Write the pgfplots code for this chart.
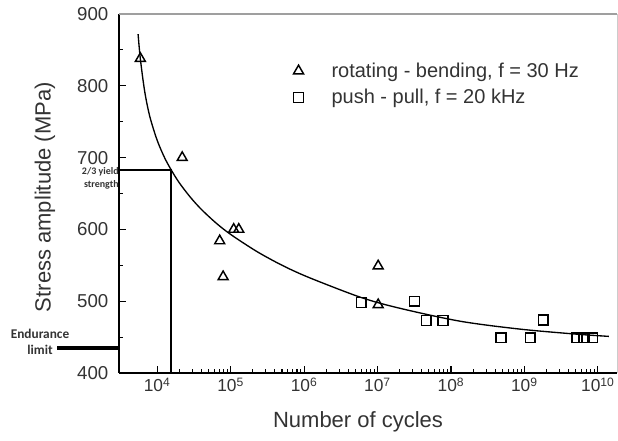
\documentclass[border=0pt]{standalone}
\usepackage{fontspec}
\setmainfont{Liberation Sans}
\newfontfamily\calib{Carlito}
\usepackage{pgfplots}
\pgfplotsset{compat=1.18}
\definecolor{txt}{HTML}{333333}

\begin{document}
\begin{tikzpicture}
\useasboundingbox (-89.25pt,-51pt) rectangle (374.25pt,279.75pt);
\begin{axis}[
  scale only axis,
  width=373.5pt,
  height=269.25pt,
  xmode=log,
  xmin=3020, xmax=1.82e10,
  ymin=400, ymax=900,
  axis lines*=left,
  axis line style={line width=1.1pt,-},
  clip=false,
  tick align=inside,
  xtick pos=left, ytick pos=left,
  major tick length=5pt, minor tick length=3pt,
  tick style={line width=0.8pt,black},
  ytick={400,500,600,700,800,900},
  minor y tick num=1,
  xtick={1e4,1e5,1e6,1e7,1e8,1e9,1e10},
  xticklabels={10\textsuperscript{4},10\textsuperscript{5},10\textsuperscript{6},10\textsuperscript{7},10\textsuperscript{8},10\textsuperscript{9},10\textsuperscript{10}},
  /pgf/number format/assume math mode=true,
  yticklabel style={font=\fontsize{14}{17}\selectfont,color=txt,xshift=-4.5pt},
  xticklabel style={font=\fontsize{13}{16}\selectfont,color=txt},
  xlabel={Number of cycles},
  ylabel={Stress amplitude (MPa)},
  xlabel style={font=\fontsize{16.5}{19}\selectfont,color=txt,at={(rel axis cs:0.48,-0.1365)},anchor=center},
  ylabel style={font=\fontsize{16.5}{19}\selectfont,color=txt,at={(rel axis cs:-0.1486,0.49)},anchor=center},
  legend style={draw=none,fill=none,at={(rel axis cs:0.342,0.88)},anchor=north west,
    font=\fontsize{15}{18}\selectfont,text=txt,row sep=3.5pt,
    /tikz/every odd column/.append style={column sep=19pt}},
  legend cell align=left,
  legend image code/.code={\draw[#1] plot coordinates {(0.3cm,0cm)};},
]
\addplot[only marks,mark=triangle,mark size=4.3pt,mark options={line width=1.1pt,black,fill=white}] coordinates {
  (5900,838) (21900,700) (1.1e5,600) (1.29e5,600) (7.1e4,584) (7.9e4,534) (1.02e7,549) (1.02e7,495)
};
\addlegendentry{rotating - bending, f = 30 Hz}
\addplot[only marks,mark=square,mark size=3.7pt,mark options={line width=1.1pt,black,fill=white}] coordinates {
  (6.0e6,498) (3.2e7,500) (4.6e7,473) (7.8e7,473) (4.8e8,449) (1.2e9,449) (1.8e9,474) (5.2e9,449) (6.5e9,449) (8.5e9,449)
};
\addlegendentry{push - pull, f = 20 kHz}
\addplot[black,line width=1pt,smooth,tension=0.5,forget plot] coordinates {
  (5495,872) (5888,838) (6761,792) (7943,757) (10000,724) (12589,700) (15488,683)
  (19953,665) (28184,645) (39811,628) (63096,609) (1e5,593) (229087,569) (524807,549)
  (1.23e6,532) (6.03e6,505) (2.04e7,490) (1.35e8,472) (8.9e8,461) (5.25e9,454) (1.41e10,451)
};
\addplot[black,line width=1.1pt,forget plot] coordinates {(3020,682.7) (15500,682.7) (15500,400)};
% top and right border
\draw[gray!75,line width=1.6pt] (rel axis cs:0,1) -- (rel axis cs:1,1);
\draw[gray!40,line width=0.5pt] (rel axis cs:1,0) -- (rel axis cs:1,1);
% annotations
\draw[black,line width=2.3pt] (rel axis cs:-0.1245,0.0696) -- (rel axis cs:0,0.0696);
\node[font=\calib\bfseries\fontsize{10}{12}\selectfont,text=txt,align=center,inner sep=0pt]
  at (rel axis cs:-0.1586,0.0864) {Endurance\\limit};
\node[font=\calib\bfseries\fontsize{7.5}{9}\selectfont,text=txt,anchor=east,inner sep=0pt]
  at (rel axis cs:0,0.56) {2/3 yield};
\node[font=\calib\bfseries\fontsize{7.5}{9}\selectfont,text=txt,anchor=east,inner sep=0pt]
  at (rel axis cs:0,0.5237) {strength};
\end{axis}
\end{tikzpicture}
\end{document}
